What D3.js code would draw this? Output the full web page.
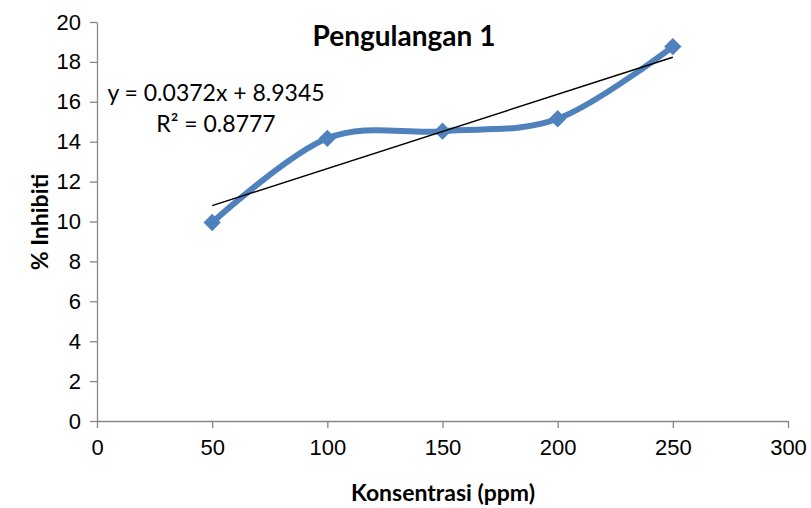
<!DOCTYPE html>
<html>
<head>
<meta charset="utf-8">
<script src="https://cdn.jsdelivr.net/npm/d3@7"></script>
<style>
  body { margin: 0; background: #fff; }
  svg { display: block; font-family: Lato, "Open Sans", sans-serif; }
  .axis path, .axis line { stroke: #868686; stroke-width: 1.3; }
  .axis text { font-size: 22px; fill: #000; }
</style>
</head>
<body>
<svg width="811" height="508"></svg>
<script>
var konsentrasi = [50, 100, 150, 200, 250];
var inhibisi = [9.95, 14.17, 14.53, 15.15, 18.77];
var xTicks = [0, 50, 100, 150, 200, 250, 300];
var yTicks = [0, 2, 4, 6, 8, 10, 12, 14, 16, 18, 20];
var slope = 0.0372, intercept = 8.9345;

var svg = d3.select("svg"),
  margin = {top: 22, right: 23, bottom: 87, left: 97},
  width = +svg.attr("width") - margin.left - margin.right,
  height = +svg.attr("height") - margin.top - margin.bottom,
  g = svg.append("g").attr("transform", "translate(" + margin.left + "," + margin.top + ")");

var x = d3.scaleLinear().domain([0, 300]).range([0, width]);
var y = d3.scaleLinear().domain([0, 20]).range([height, 0]);

g.append("g")
  .attr("class", "axis")
  .attr("transform", "translate(0," + height + ")")
  .call(d3.axisBottom(x).tickValues(xTicks).tickSize(7).tickSizeOuter(0).tickPadding(11))
  .selectAll("text").attr("dy", "0.71em");

g.append("g")
  .attr("class", "axis")
  .call(d3.axisLeft(y).tickValues(yTicks).tickSize(7).tickSizeOuter(0).tickPadding(9));

var data = konsentrasi.map(function(k, i) { return {x: k, y: inhibisi[i]}; });

var line = d3.line()
  .x(function(d) { return x(d.x); })
  .y(function(d) { return y(d.y); })
  .curve(d3.curveCardinal.tension(0));

g.append("path")
  .datum(data)
  .attr("fill", "none")
  .attr("stroke", "#4f81bd")
  .attr("stroke-width", 6)
  .attr("stroke-linecap", "round")
  .attr("d", line);

g.selectAll(".pt")
  .data(data)
  .enter().append("path")
    .attr("class", "pt")
    .attr("fill", "#4f81bd")
    .attr("transform", function(d) { return "translate(" + x(d.x) + "," + y(d.y) + ") rotate(45)"; })
    .attr("d", d3.symbol().type(d3.symbolSquare).size(150));

// linear trendline
var xs = d3.extent(konsentrasi);
g.append("line")
  .attr("x1", x(xs[0])).attr("y1", y(slope * xs[0] + intercept))
  .attr("x2", x(xs[1])).attr("y2", y(slope * xs[1] + intercept))
  .attr("stroke", "#000")
  .attr("stroke-width", 1.5);

svg.append("text")
  .attr("x", 404).attr("y", 46)
  .attr("text-anchor", "middle")
  .attr("font-size", 28).attr("font-weight", "bold")
  .text("Pengulangan 1");

svg.append("text")
  .attr("x", 216).attr("y", 101)
  .attr("text-anchor", "middle")
  .attr("font-size", 23)
  .text("y = 0.0372x + 8.9345");

svg.append("text")
  .attr("x", 216).attr("y", 132)
  .attr("text-anchor", "middle")
  .attr("font-size", 23)
  .text("R² = 0.8777");

svg.append("text")
  .attr("x", 443).attr("y", 501)
  .attr("text-anchor", "middle")
  .attr("font-size", 23).attr("font-weight", "bold")
  .text("Konsentrasi (ppm)");

svg.append("text")
  .attr("transform", "translate(48,222) rotate(-90)")
  .attr("text-anchor", "middle")
  .attr("font-size", 23).attr("font-weight", "bold")
  .text("% Inhibiti");
</script>
</body>
</html>
